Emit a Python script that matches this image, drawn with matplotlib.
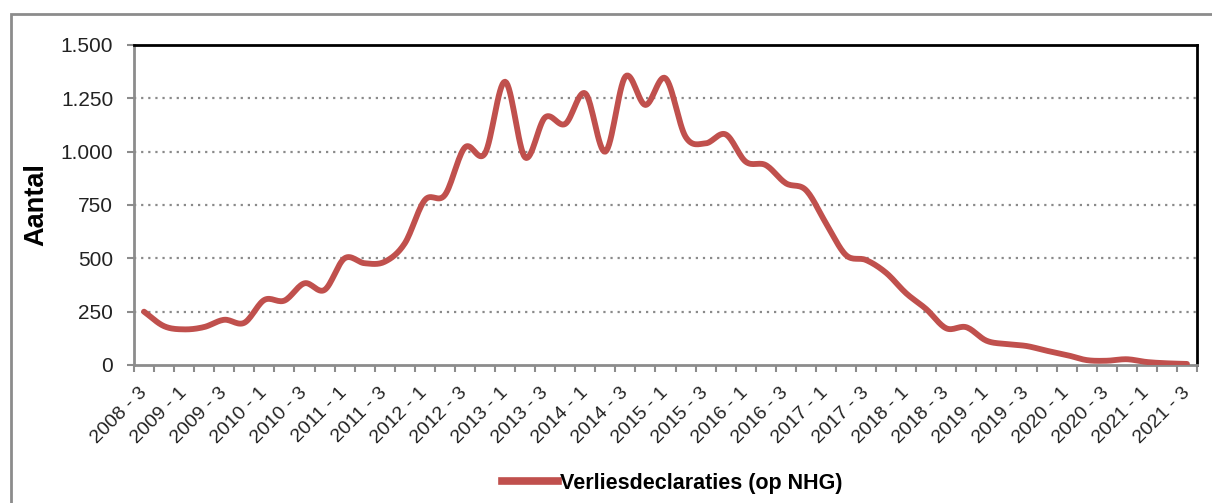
import numpy as np
import matplotlib
matplotlib.use("Agg")
import matplotlib.pyplot as plt
from matplotlib.patches import Rectangle
from matplotlib.lines import Line2D

plt.rcParams['font.family'] = ['Liberation Sans', 'DejaVu Sans']

# quarters 2008-3 .. 2021-3
quarters_list = []
for y in range(2008, 2022):
    for q in range(1, 5):
        if (y == 2008 and q < 3) or (y == 2021 and q > 3):
            continue
        quarters_list.append(f"{y} - {q}")

values = [250, 182, 167, 178, 212, 198, 305, 302, 383, 352,
          500, 477, 484, 570, 773, 797, 1020, 992, 1328, 973,
          1161, 1130, 1273, 1000, 1352, 1219, 1344, 1070, 1039, 1081,
          953, 937, 852, 820, 665, 515, 492, 432, 336, 262,
          172, 177, 114, 98, 89, 67, 47, 23, 20, 27,
          14, 8, 5]

series_name = "Verliesdeclaraties (op NHG)"
y_label = "Aantal"
y_ticks = [0, 250, 500, 750, 1000, 1250, 1500]
y_ticklabels = ["0", "250", "500", "750", "1.000", "1.250", "1.500"]

line_color = "#C0504D"


def catmull_rom(x, y, n=16):
    x = np.asarray(x, float)
    y = np.asarray(y, float)
    px = np.concatenate([[2 * x[0] - x[1]], x, [2 * x[-1] - x[-2]]])
    py = np.concatenate([[2 * y[0] - y[1]], y, [2 * y[-1] - y[-2]]])
    xs, ys = [], []
    t = np.linspace(0, 1, n, endpoint=False)
    for i in range(1, len(px) - 2):
        for arr, out in ((px, xs), (py, ys)):
            p0, p1, p2, p3 = arr[i - 1], arr[i], arr[i + 1], arr[i + 2]
            out.append(0.5 * ((2 * p1) + (-p0 + p2) * t
                              + (2 * p0 - 5 * p1 + 4 * p2 - p3) * t ** 2
                              + (-p0 + 3 * p1 - 3 * p2 + p3) * t ** 3))
    xs = np.concatenate(xs + [[x[-1]]])
    ys = np.concatenate(ys + [[y[-1]]])
    return xs, ys


W, H = 1212, 503
fig = plt.figure(figsize=(W / 100, H / 100), dpi=100)
fig.patch.set_facecolor("white")

# outer chart frame
fig.add_artist(Rectangle((11 / W, -0.05), 1.2, 1 - 14 / H + 0.05,
                         transform=fig.transFigure, fill=False,
                         edgecolor="#8c8c8c", linewidth=2))

ax = fig.add_axes([134 / W, 1 - 365 / H, (1197 - 134) / W, (365 - 45) / H])

xidx = np.arange(len(values))
sx, sy = catmull_rom(xidx, values)
ax.plot(sx, sy, color=line_color, linewidth=4.2, solid_capstyle='round',
        solid_joinstyle='round', zorder=3)

ax.set_xlim(-0.5, len(values) - 0.5)
ax.set_ylim(0, 1500)

ax.set_yticks(y_ticks)
ax.set_yticklabels(y_ticklabels, fontsize=15, color="#222222")
for yv in y_ticks[1:-1]:
    ax.axhline(yv, color="#8a8a8a", linestyle=(0, (1, 2.2)), linewidth=1.6, zorder=1)

# x ticks: labels every 2 quarters at centers, tick marks between categories
label_pos = xidx[::2]
ax.set_xticks(label_pos)
ax.set_xticklabels([quarters_list[i] for i in label_pos], rotation=45,
                   ha='right', va='center', rotation_mode='anchor',
                   fontsize=14, color="#222222")
ax.tick_params(axis='x', which='major', length=0, pad=18)
ax.set_xticks(np.arange(-0.5, len(values) + 0.5, 1), minor=True)
ax.tick_params(axis='x', which='minor', length=5, width=1.5, color="#8c8c8c")
ax.tick_params(axis='y', length=5, width=1.5, color="#8c8c8c", pad=10)

for side in ("left", "bottom"):
    ax.spines[side].set_color("#8c8c8c")
    ax.spines[side].set_linewidth(2)
for side in ("top", "right"):
    ax.spines[side].set_color("black")
    ax.spines[side].set_linewidth(2)

fig.text(36 / W, 1 - 205 / H, y_label, rotation=90, fontsize=19.5,
         fontweight='bold', ha='center', va='center')

# legend
legend_handle = Line2D([0], [0], color=line_color, linewidth=5.5)
fig.legend([legend_handle], [series_name], loc='center',
           bbox_to_anchor=(672 / W, 1 - 483 / H), frameon=False,
           prop={'weight': 'bold', 'size': 15.5}, handlelength=2.6,
           handletextpad=0.1)

fig.savefig("out.png", dpi=100, facecolor="white")
